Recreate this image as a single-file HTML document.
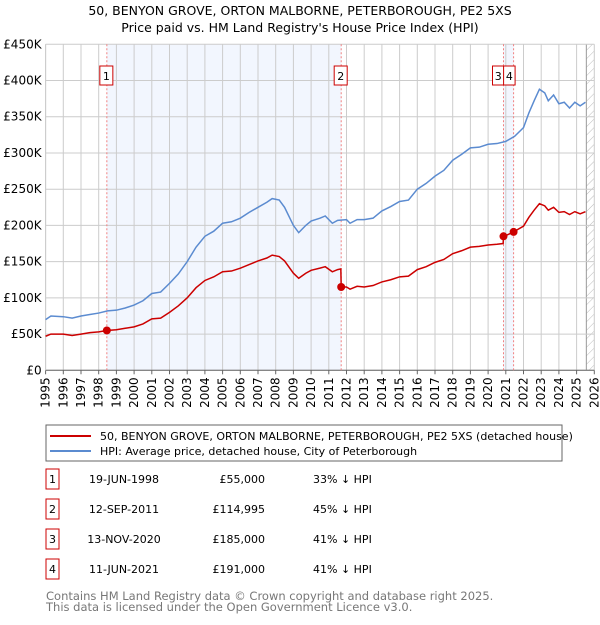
<!DOCTYPE html>
<html><head><meta charset="utf-8"><style>
body{margin:0;background:#fff;font-family:"Liberation Sans","DejaVu Sans",sans-serif;}
svg text{font-family:"DejaVu Sans","Liberation Sans",sans-serif;}
</style></head><body>
<svg id="c" width="600" height="620" xmlns="http://www.w3.org/2000/svg">
<defs><pattern id="hatch" width="6" height="6" patternUnits="userSpaceOnUse" patternTransform="rotate(45)"><line x1="0" y1="0" x2="0" y2="6" stroke="#bbb" stroke-width="1"/></pattern></defs>
<text x="300" y="15" text-anchor="middle" font-size="12.5">50, BENYON GROVE, ORTON MALBORNE, PETERBOROUGH, PE2 5XS</text>
<text x="300" y="32" text-anchor="middle" font-size="12.5">Price paid vs. HM Land Registry's House Price Index (HPI)</text>
<g id="plot"></g>
<rect x="46" y="425" width="516" height="36" fill="#fff" stroke="#666"/>
<line x1="50" y1="436" x2="91" y2="436" stroke="#cc0000" stroke-width="2"/>
<text x="100" y="440" font-size="11">50, BENYON GROVE, ORTON MALBORNE, PETERBOROUGH, PE2 5XS (detached house)</text>
<line x1="50" y1="451" x2="91" y2="451" stroke="#5b8bd0" stroke-width="2"/>
<text x="100" y="455" font-size="11">HPI: Average price, detached house, City of Peterborough</text>
<g id="tbl" font-size="11"></g>
<text x="46" y="600" font-size="11.5" fill="#777">Contains HM Land Registry data © Crown copyright and database right 2025.</text>
<text x="46" y="611" font-size="11.5" fill="#777">This data is licensed under the Open Government Licence v3.0.</text>
</svg>
<script>
const hpiYears=[1995,1995.3,1996,1996.5,1997,1997.5,1998,1998.5,1999,1999.5,2000,2000.5,2001,2001.5,2002,2002.5,2003,2003.5,2004,2004.5,2005,2005.5,2006,2006.5,2007,2007.5,2007.8,2008.2,2008.5,2009,2009.3,2009.7,2010,2010.5,2010.8,2011.2,2011.5,2012,2012.2,2012.6,2013,2013.5,2014,2014.5,2015,2015.5,2016,2016.5,2017,2017.5,2018,2018.5,2019,2019.5,2020,2020.5,2021,2021.5,2022,2022.3,2022.6,2022.9,2023.2,2023.4,2023.7,2024,2024.3,2024.6,2024.9,2025.2,2025.5];
const hpiValues=[70,75,74,72,75,77,79,82,83,86,90,96,106,108,120,133,150,170,185,192,203,205,210,218,225,232,237,235,225,200,190,200,206,210,213,203,207,208,203,208,208,210,220,226,233,235,250,258,268,276,290,298,307,308,312,313,316,323,335,355,372,388,383,372,380,368,370,362,370,365,370];
const redYears=[1995,1995.3,1996,1996.5,1997,1997.5,1998,1998.46,1999,1999.5,2000,2000.5,2001,2001.5,2002,2002.5,2003,2003.5,2004,2004.5,2005,2005.5,2006,2006.5,2007,2007.5,2007.8,2008.2,2008.5,2009,2009.3,2009.7,2010,2010.5,2010.8,2011.2,2011.5,2011.68,2011.7,2012,2012.2,2012.6,2013,2013.5,2014,2014.5,2015,2015.5,2016,2016.5,2017,2017.5,2018,2018.5,2019,2019.5,2020,2020.5,2020.85,2020.87,2021,2021.44,2021.5,2022,2022.3,2022.6,2022.9,2023.2,2023.4,2023.7,2024,2024.3,2024.6,2024.9,2025.2,2025.5];
const redValues=[47,50,50,48,50,52,53,55,56,58,60,64,71,72,80,89,100,114,124,129,136,137,141,146,151,155,159,157,151,134,127,134,138,141,143,136,139,140,115,115,112,116,115,117,122,125,129,130,139,143,149,153,161,165,170,171,173,174,175,185,186,191,192,199,211,221,230,227,221,225,218,219,215,219,216,219];
const saleLabels=["1","2","3","4"];
const saleYears=[1998.46,2011.7,2020.87,2021.44];
const saleValues=[55,114.995,185,191];
const saleDates=["19-JUN-1998","12-SEP-2011","13-NOV-2020","11-JUN-2021"];
const salePrices=["£55,000","£114,995","£185,000","£191,000"];
const salePcts=["33% ↓ HPI","45% ↓ HPI","41% ↓ HPI","41% ↓ HPI"];
const yTicks=[0,50,100,150,200,250,300,350,400,450];
const yTickLabels=["£0","£50K","£100K","£150K","£200K","£250K","£300K","£350K","£400K","£450K"];
const xTicks=[1995,1996,1997,1998,1999,2000,2001,2002,2003,2004,2005,2006,2007,2008,2009,2010,2011,2012,2013,2014,2015,2016,2017,2018,2019,2020,2021,2022,2023,2024,2025,2026];

const X0=45.6,X1=594.3,Y0=370.3,Y1=44.3;
const xs=v=>X0+(v-1995)/(2026-1995)*(X1-X0);
const ys=v=>Y0-v/450*(Y0-Y1);
const NS="http://www.w3.org/2000/svg";
const g=document.getElementById('plot');
function mk(tag,at,parent){const e=document.createElementNS(NS,tag);for(const k in at)e.setAttribute(k,at[k]);(parent||g).appendChild(e);return e;}
let r=mk('rect',{x:xs(saleYears[0]),y:Y1,width:xs(saleYears[1])-xs(saleYears[0]),height:Y0-Y1,fill:'#f2f6fe'});


r=mk('rect',{x:xs(saleYears[2]),y:Y1,width:xs(saleYears[3])-xs(saleYears[2]),height:Y0-Y1,fill:'#f2f6fe'});


r=mk('rect',{x:xs(2025.55),y:Y1,width:X1-xs(2025.55),height:Y0-Y1,fill:'url(#hatch)'});


mk('line',{x1:xs(2025.55),y1:Y1,x2:xs(2025.55),y2:Y0,stroke:'#999','stroke-width':1});
yTicks.forEach((t,i)=>{mk('line',{x1:X0,y1:ys(t),x2:X1,y2:ys(t),stroke:'#ccc'});
 const tx=mk('text',{x:X0-4,y:ys(t)+4,'text-anchor':'end','font-size':'12'});tx.textContent=yTickLabels[i];
 
 });
xTicks.forEach(t=>{mk('line',{x1:xs(t),y1:Y1,x2:xs(t),y2:Y0,stroke:'#ccc'});
 mk('line',{x1:xs(t),y1:Y0,x2:xs(t),y2:Y0+4,stroke:'#666'});
 const tx=mk('text',{x:0,y:0,'text-anchor':'end','font-size':'12',transform:`translate(${xs(t)+4},${Y0+7}) rotate(-90)`});tx.textContent=t;
 
 });
mk('line',{x1:X0,y1:Y0,x2:X1,y2:Y0,stroke:'#666'});
mk('line',{x1:X0,y1:Y1,x2:X0,y2:Y0,stroke:'#ccc'});
saleYears.forEach(s=>{mk('line',{x1:xs(s),y1:Y1,x2:xs(s),y2:Y0,stroke:'#f08080','stroke-dasharray':'2,2','stroke-width':1});});
let p=mk('polyline',{points:hpiYears.map((y,i)=>xs(y)+','+ys(hpiValues[i])).join(' '),fill:'none',stroke:'#5b8bd0','stroke-width':1.5});


p=mk('polyline',{points:redYears.map((y,i)=>xs(y)+','+ys(redValues[i])).join(' '),fill:'none',stroke:'#cc0000','stroke-width':1.5});


const boxOff=[-7,-7,-11,-10];
saleYears.forEach((s,i)=>{
 const c=mk('circle',{cx:xs(s),cy:ys(saleValues[i]),r:4,fill:'#cc0000'});
 
 
 const w=i>=2?11.5:13;
 const bx=xs(s)+boxOff[i];
 mk('rect',{x:bx,y:66,width:w,height:19,fill:'#fff',stroke:'#cc0000'});
 const t=mk('text',{x:bx+w/2,y:80,'text-anchor':'middle','font-size':'11'});t.textContent=saleLabels[i];
 
 
});
const tb=document.getElementById('tbl');
saleLabels.forEach((l,i)=>{const y=483+i*30;
 mk('rect',{x:46,y:y-14,width:13,height:20,fill:'#fff',stroke:'#cc0000'},tb);
 let t=mk('text',{x:52.5,y:y,'text-anchor':'middle'},tb);t.textContent=l;
 
 
 t=mk('text',{x:124,y:y,'text-anchor':'middle'},tb);t.textContent=saleDates[i];
 
 
 t=mk('text',{x:265,y:y,'text-anchor':'end'},tb);t.textContent=salePrices[i];
 
 
 t=mk('text',{x:313,y:y},tb);t.textContent=salePcts[i];
 
 
});
</script>
</body></html>
